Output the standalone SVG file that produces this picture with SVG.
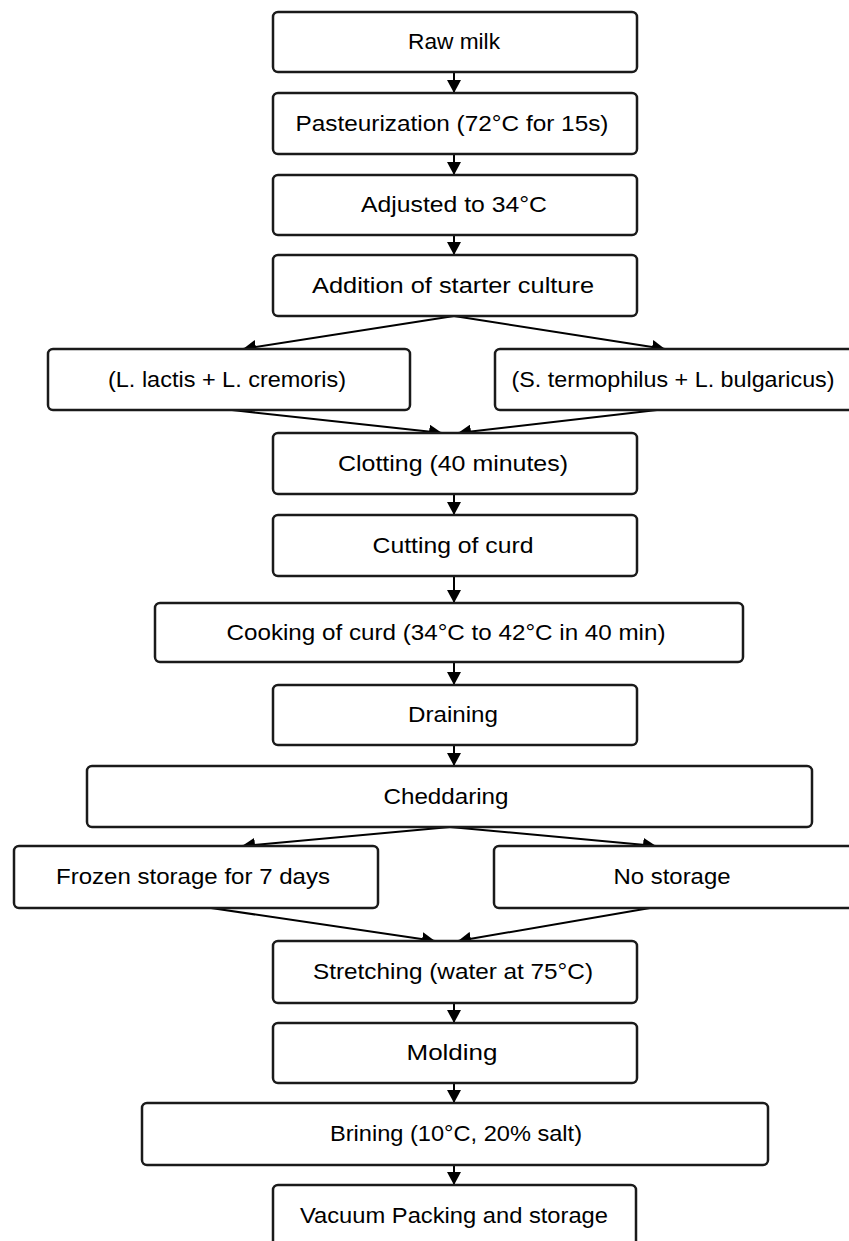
<svg xmlns="http://www.w3.org/2000/svg" width="849" height="1241" viewBox="0 0 849 1241">
<style>
.box{fill:#fff;stroke:#1a1a1a;stroke-width:2.5}
.t{font-family:"Liberation Sans",Arial,sans-serif;font-size:22.5px;fill:#000;text-anchor:middle}
.c{stroke:#000;stroke-width:2;fill:none;marker-end:url(#ah)}
</style>
<defs>
<marker id="ah" markerUnits="userSpaceOnUse" markerWidth="14" markerHeight="14" refX="13" refY="7" orient="auto">
<path d="M0,0 L13,7 L0,14 z" fill="#000"/>
</marker>
</defs>
<rect width="849" height="1241" fill="#fff"/>
<g id="connectors">
<line class="c" x1="454" y1="72" x2="454" y2="93"/>
<line class="c" x1="454" y1="154" x2="454" y2="175"/>
<line class="c" x1="454" y1="235" x2="454" y2="255"/>
<line class="c" x1="454" y1="316" x2="243" y2="349"/>
<line class="c" x1="454" y1="316" x2="665" y2="349"/>
<line class="c" x1="232" y1="410" x2="442" y2="433"/>
<line class="c" x1="657" y1="410" x2="458" y2="433"/>
<line class="c" x1="454" y1="494" x2="454" y2="515"/>
<line class="c" x1="454" y1="576" x2="454" y2="603"/>
<line class="c" x1="454" y1="662" x2="454" y2="685"/>
<line class="c" x1="454" y1="745" x2="454" y2="766"/>
<line class="c" x1="450" y1="827" x2="242" y2="846"/>
<line class="c" x1="450" y1="827" x2="656" y2="846"/>
<line class="c" x1="211" y1="908" x2="435" y2="941"/>
<line class="c" x1="650" y1="908" x2="458" y2="941"/>
<line class="c" x1="454" y1="1003" x2="454" y2="1023"/>
<line class="c" x1="454" y1="1083" x2="454" y2="1103"/>
<line class="c" x1="454" y1="1165" x2="454" y2="1185"/>
</g>
<g id="n1"><rect class="box" x="273" y="12" width="364" height="60" rx="5"/><text class="t" x="454" y="49" textLength="92" lengthAdjust="spacingAndGlyphs">Raw milk</text></g>
<g id="n2"><rect class="box" x="273" y="93" width="364" height="61" rx="5"/><text class="t" x="452" y="131" textLength="313" lengthAdjust="spacingAndGlyphs">Pasteurization (72°C for 15s)</text></g>
<g id="n3"><rect class="box" x="273" y="175" width="364" height="60" rx="5"/><text class="t" x="454" y="212" textLength="186" lengthAdjust="spacingAndGlyphs">Adjusted to 34°C</text></g>
<g id="n4"><rect class="box" x="273" y="255" width="364" height="61" rx="5"/><text class="t" x="453" y="293" textLength="282" lengthAdjust="spacingAndGlyphs">Addition of starter culture</text></g>
<g id="n5"><rect class="box" x="48" y="349" width="362" height="61" rx="5"/><text class="t" x="227" y="387" textLength="238" lengthAdjust="spacingAndGlyphs">(L. lactis + L. cremoris)</text></g>
<g id="n6"><rect class="box" x="495" y="349" width="370" height="61" rx="5"/><text class="t" x="673" y="387" textLength="323" lengthAdjust="spacingAndGlyphs">(S. termophilus + L. bulgaricus)</text></g>
<g id="n7"><rect class="box" x="273" y="433" width="364" height="61" rx="5"/><text class="t" x="453" y="471" textLength="230" lengthAdjust="spacingAndGlyphs">Clotting (40 minutes)</text></g>
<g id="n8"><rect class="box" x="273" y="515" width="364" height="61" rx="5"/><text class="t" x="453" y="553" textLength="161" lengthAdjust="spacingAndGlyphs">Cutting of curd</text></g>
<g id="n9"><rect class="box" x="155" y="603" width="588" height="59" rx="5"/><text class="t" x="446" y="640" textLength="439" lengthAdjust="spacingAndGlyphs">Cooking of curd (34°C to 42°C in 40 min)</text></g>
<g id="n10"><rect class="box" x="273" y="685" width="364" height="60" rx="5"/><text class="t" x="453" y="722" textLength="90" lengthAdjust="spacingAndGlyphs">Draining</text></g>
<g id="n11"><rect class="box" x="87" y="766" width="725" height="61" rx="5"/><text class="t" x="446" y="804" textLength="125" lengthAdjust="spacingAndGlyphs">Cheddaring</text></g>
<g id="n12"><rect class="box" x="14" y="846" width="364" height="62" rx="5"/><text class="t" x="193" y="884" textLength="274" lengthAdjust="spacingAndGlyphs">Frozen storage for 7 days</text></g>
<g id="n13"><rect class="box" x="494" y="846" width="370" height="62" rx="5"/><text class="t" x="672" y="884" textLength="117" lengthAdjust="spacingAndGlyphs">No storage</text></g>
<g id="n14"><rect class="box" x="273" y="941" width="364" height="62" rx="5"/><text class="t" x="453" y="979" textLength="280" lengthAdjust="spacingAndGlyphs">Stretching (water at 75°C)</text></g>
<g id="n15"><rect class="box" x="273" y="1023" width="364" height="60" rx="5"/><text class="t" x="452" y="1060" textLength="91" lengthAdjust="spacingAndGlyphs">Molding</text></g>
<g id="n16"><rect class="box" x="142" y="1103" width="626" height="62" rx="5"/><text class="t" x="456" y="1141" textLength="252" lengthAdjust="spacingAndGlyphs">Brining (10°C, 20% salt)</text></g>
<g id="n17"><rect class="box" x="273" y="1185" width="363" height="66" rx="5"/><text class="t" x="454" y="1223" textLength="308" lengthAdjust="spacingAndGlyphs">Vacuum Packing and storage</text></g>
</svg>
